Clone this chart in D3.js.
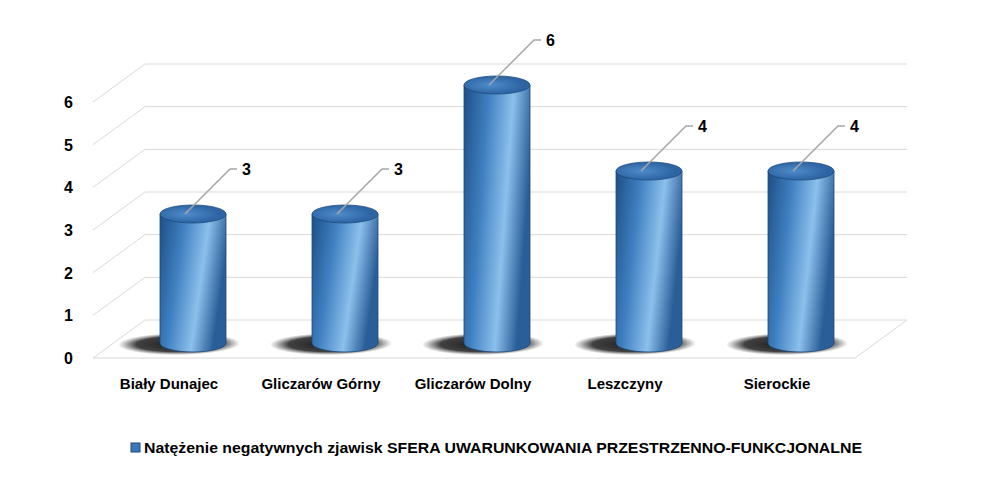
<!DOCTYPE html><html><head><meta charset="utf-8">
<script src="https://cdn.jsdelivr.net/npm/d3@7"></script>
<style>body{margin:0;background:#fff}</style></head><body><svg id="c" width="985" height="478"></svg>
<script>
const categories=["Biały Dunajec","Gliczarów Górny","Gliczarów Dolny","Leszczyny","Sierockie"];
const values=[3,3,6,4,4];
const ticks=[0,1,2,3,4,5,6];
const legendLabel="Natężenie negatywnych zjawisk SFERA UWARUNKOWANIA PRZESTRZENNO-FUNKCJONALNE";
const svg=d3.select("#c");
const font="'Liberation Sans', Arial, sans-serif";
const yF=d3.scaleLinear().domain([0,6]).range([358,102]);
const dx=52, dy=-38;
const yB=d3.scaleLinear().domain([0,6]).range([343,85]);
const x=d3.scaleBand().domain(categories).range([117,877]);
const defs=svg.append("defs");
const g=defs.append("linearGradient").attr("id","cyl").attr("x1","0").attr("y1","0").attr("x2","1").attr("y2","0.3");
[["0%","#1d4f86"],["35%","#3f7fc0"],["70%","#8cc0ec"],["100%","#2a5e98"]].forEach(s=>g.append("stop").attr("offset",s[0]).attr("stop-color",s[1]));
const gt=defs.append("radialGradient").attr("id","top").attr("cx","40%").attr("cy","50%");
gt.append("stop").attr("offset","0%").attr("stop-color","#4f8cc9");gt.append("stop").attr("offset","100%").attr("stop-color","#2d64a3");
const gs=defs.append("radialGradient").attr("id","sh");
gs.append("stop").attr("offset","0%").attr("stop-color","#000").attr("stop-opacity",0.9);
gs.append("stop").attr("offset","70%").attr("stop-color","#111").attr("stop-opacity",0.8);
gs.append("stop").attr("offset","100%").attr("stop-color","#333").attr("stop-opacity",0);
const grid="#d9d9d9";
ticks.forEach(t=>{
  const y=yF(t);
  svg.append("line").attr("x1",93).attr("y1",y).attr("x2",93+dx).attr("y2",y+dy).attr("stroke",grid);
  svg.append("line").attr("x1",93+dx).attr("y1",y+dy).attr("x2",907).attr("y2",y+dy).attr("stroke",grid);
  svg.append("text").attr("x",73).attr("y",y+6).attr("text-anchor","end").attr("font-family",font).attr("font-weight","bold").attr("font-size",16).text(t);
});
svg.append("line").attr("x1",93).attr("y1",yF(0)).attr("x2",855).attr("y2",yF(0)).attr("stroke",grid);
svg.append("line").attr("x1",855).attr("y1",yF(0)).attr("x2",907).attr("y2",yF(0)+dy).attr("stroke",grid);
const rx=33, ry=9;
categories.forEach((c,i)=>{
  const cx=x(c)+x.bandwidth()/2, yb=yB(0), yt=yB(values[i]);
  svg.append("ellipse").attr("cx",cx-14).attr("cy",yb+1).attr("rx",rx+28).attr("ry",ry+2).attr("fill","url(#sh)").attr("transform",`skewX(-20) translate(${(yb+1)*Math.tan(20*Math.PI/180)},0)`);
  svg.append("path").attr("d",`M${cx-rx},${yt} L${cx-rx},${yb} A${rx},${ry} 0 0 0 ${cx+rx},${yb} L${cx+rx},${yt} Z`).attr("fill","url(#cyl)").attr("stroke","#1c4a7d").attr("stroke-width",0.8);
  svg.append("ellipse").attr("cx",cx).attr("cy",yt).attr("rx",rx).attr("ry",ry).attr("fill","url(#top)").attr("stroke","#1c4a7d").attr("stroke-width",0.8);
  svg.append("polyline").attr("points",`${cx-8},${yt} ${cx+37},${yt-45} ${cx+44},${yt-45}`).attr("fill","none").attr("stroke","#a6a6a6").attr("stroke-width",1.5);
  svg.append("text").attr("x",cx+49).attr("y",yt-39).attr("font-family",font).attr("font-weight","bold").attr("font-size",16).text(values[i]);
  svg.append("text").attr("x",cx-24).attr("y",389).attr("text-anchor","middle").attr("font-family",font).attr("font-weight","bold").attr("font-size",15).text(c);
});
svg.append("rect").attr("x",131).attr("y",443).attr("width",9).attr("height",9).attr("fill","#3a78b8").attr("stroke","#1c4a7d");
svg.append("text").attr("x",144).attr("y",453).attr("font-family",font).attr("font-weight","bold").attr("font-size",14.5).attr("textLength",718).attr("lengthAdjust","spacingAndGlyphs").text(legendLabel);
</script></body></html>
